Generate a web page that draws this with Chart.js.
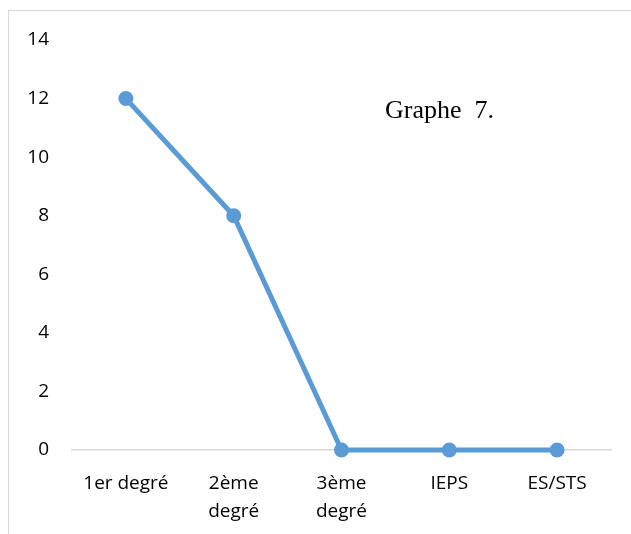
<!DOCTYPE html>
<html>
<head>
<meta charset="utf-8">
<script src="https://cdn.jsdelivr.net/npm/chart.js@4/dist/chart.umd.min.js"></script>
<style>
  html, body { margin: 0; padding: 0; background: #ffffff; }
  #wrap { position: relative; width: 631px; height: 534px; overflow: hidden; }
  #frame { position: absolute; left: 8px; top: 10px; width: 700px; height: 600px;
           border-top: 1px solid #d9d9d9; border-left: 1px solid #d9d9d9; }
  canvas { position: absolute; left: 0; top: 0; }
</style>
</head>
<body>
<div id="wrap">
  <div id="frame"></div>
  <canvas id="chart" width="631" height="534"></canvas>
</div>
<script>
// Niveaux et effectifs
const categories = [["1er degré"], ["2ème", "degré"], ["3ème", "degré"], ["IEPS"], ["ES/STS"]];
const values = [12, 8, 0, 0, 0];
const yTicks = [0, 2, 4, 6, 8, 10, 12, 14];
const titleText = "Graphe  7.";

const titlePlugin = {
  id: 'graphTitle',
  afterDraw(chart) {
    const ctx = chart.ctx;
    const a = chart.chartArea;
    ctx.save();
    ctx.font = '26px "Liberation Serif", "Times New Roman", serif';
    ctx.fillStyle = '#000000';
    ctx.textAlign = 'left';
    ctx.textBaseline = 'middle';
    ctx.fillText(titleText, a.left + 313, a.top + 71);
    ctx.restore();
  }
};

const tickFont = { family: '"Open Sans", "Liberation Sans", sans-serif', size: 19, lineHeight: 1.5 };

new Chart(document.getElementById('chart'), {
  type: 'line',
  data: {
    labels: categories,
    datasets: [{
      data: values,
      borderColor: '#5B9BD5',
      backgroundColor: '#5B9BD5',
      borderWidth: 5,
      pointRadius: 7.5,
      pointHoverRadius: 7.5,
      pointBorderWidth: 0,
      tension: 0,
      clip: false
    }]
  },
  options: {
    responsive: false,
    animation: false,
    devicePixelRatio: 1,
    layout: { padding: { left: 0, right: 20, top: 40, bottom: 0 } },
    plugins: { legend: { display: false }, tooltip: { enabled: false } },
    scales: {
      x: {
        offset: true,
        grid: { display: false, drawTicks: false },
        border: { display: true, color: '#d9d9d9', width: 1.5 },
        ticks: {
          color: '#000000',
          padding: 19,
          maxRotation: 0,
          font: tickFont
        },
        afterFit(scale) { scale.height = 84; }
      },
      y: {
        min: 0,
        max: 14,
        afterBuildTicks(scale) { scale.ticks = yTicks.map(v => ({ value: v })); },
        grid: { display: false, drawTicks: false },
        border: { display: false },
        ticks: {
          color: '#000000',
          padding: 23,
          font: tickFont
        },
        afterFit(scale) { scale.width = 72; }
      }
    }
  },
  plugins: [titlePlugin]
});
</script>
</body>
</html>
